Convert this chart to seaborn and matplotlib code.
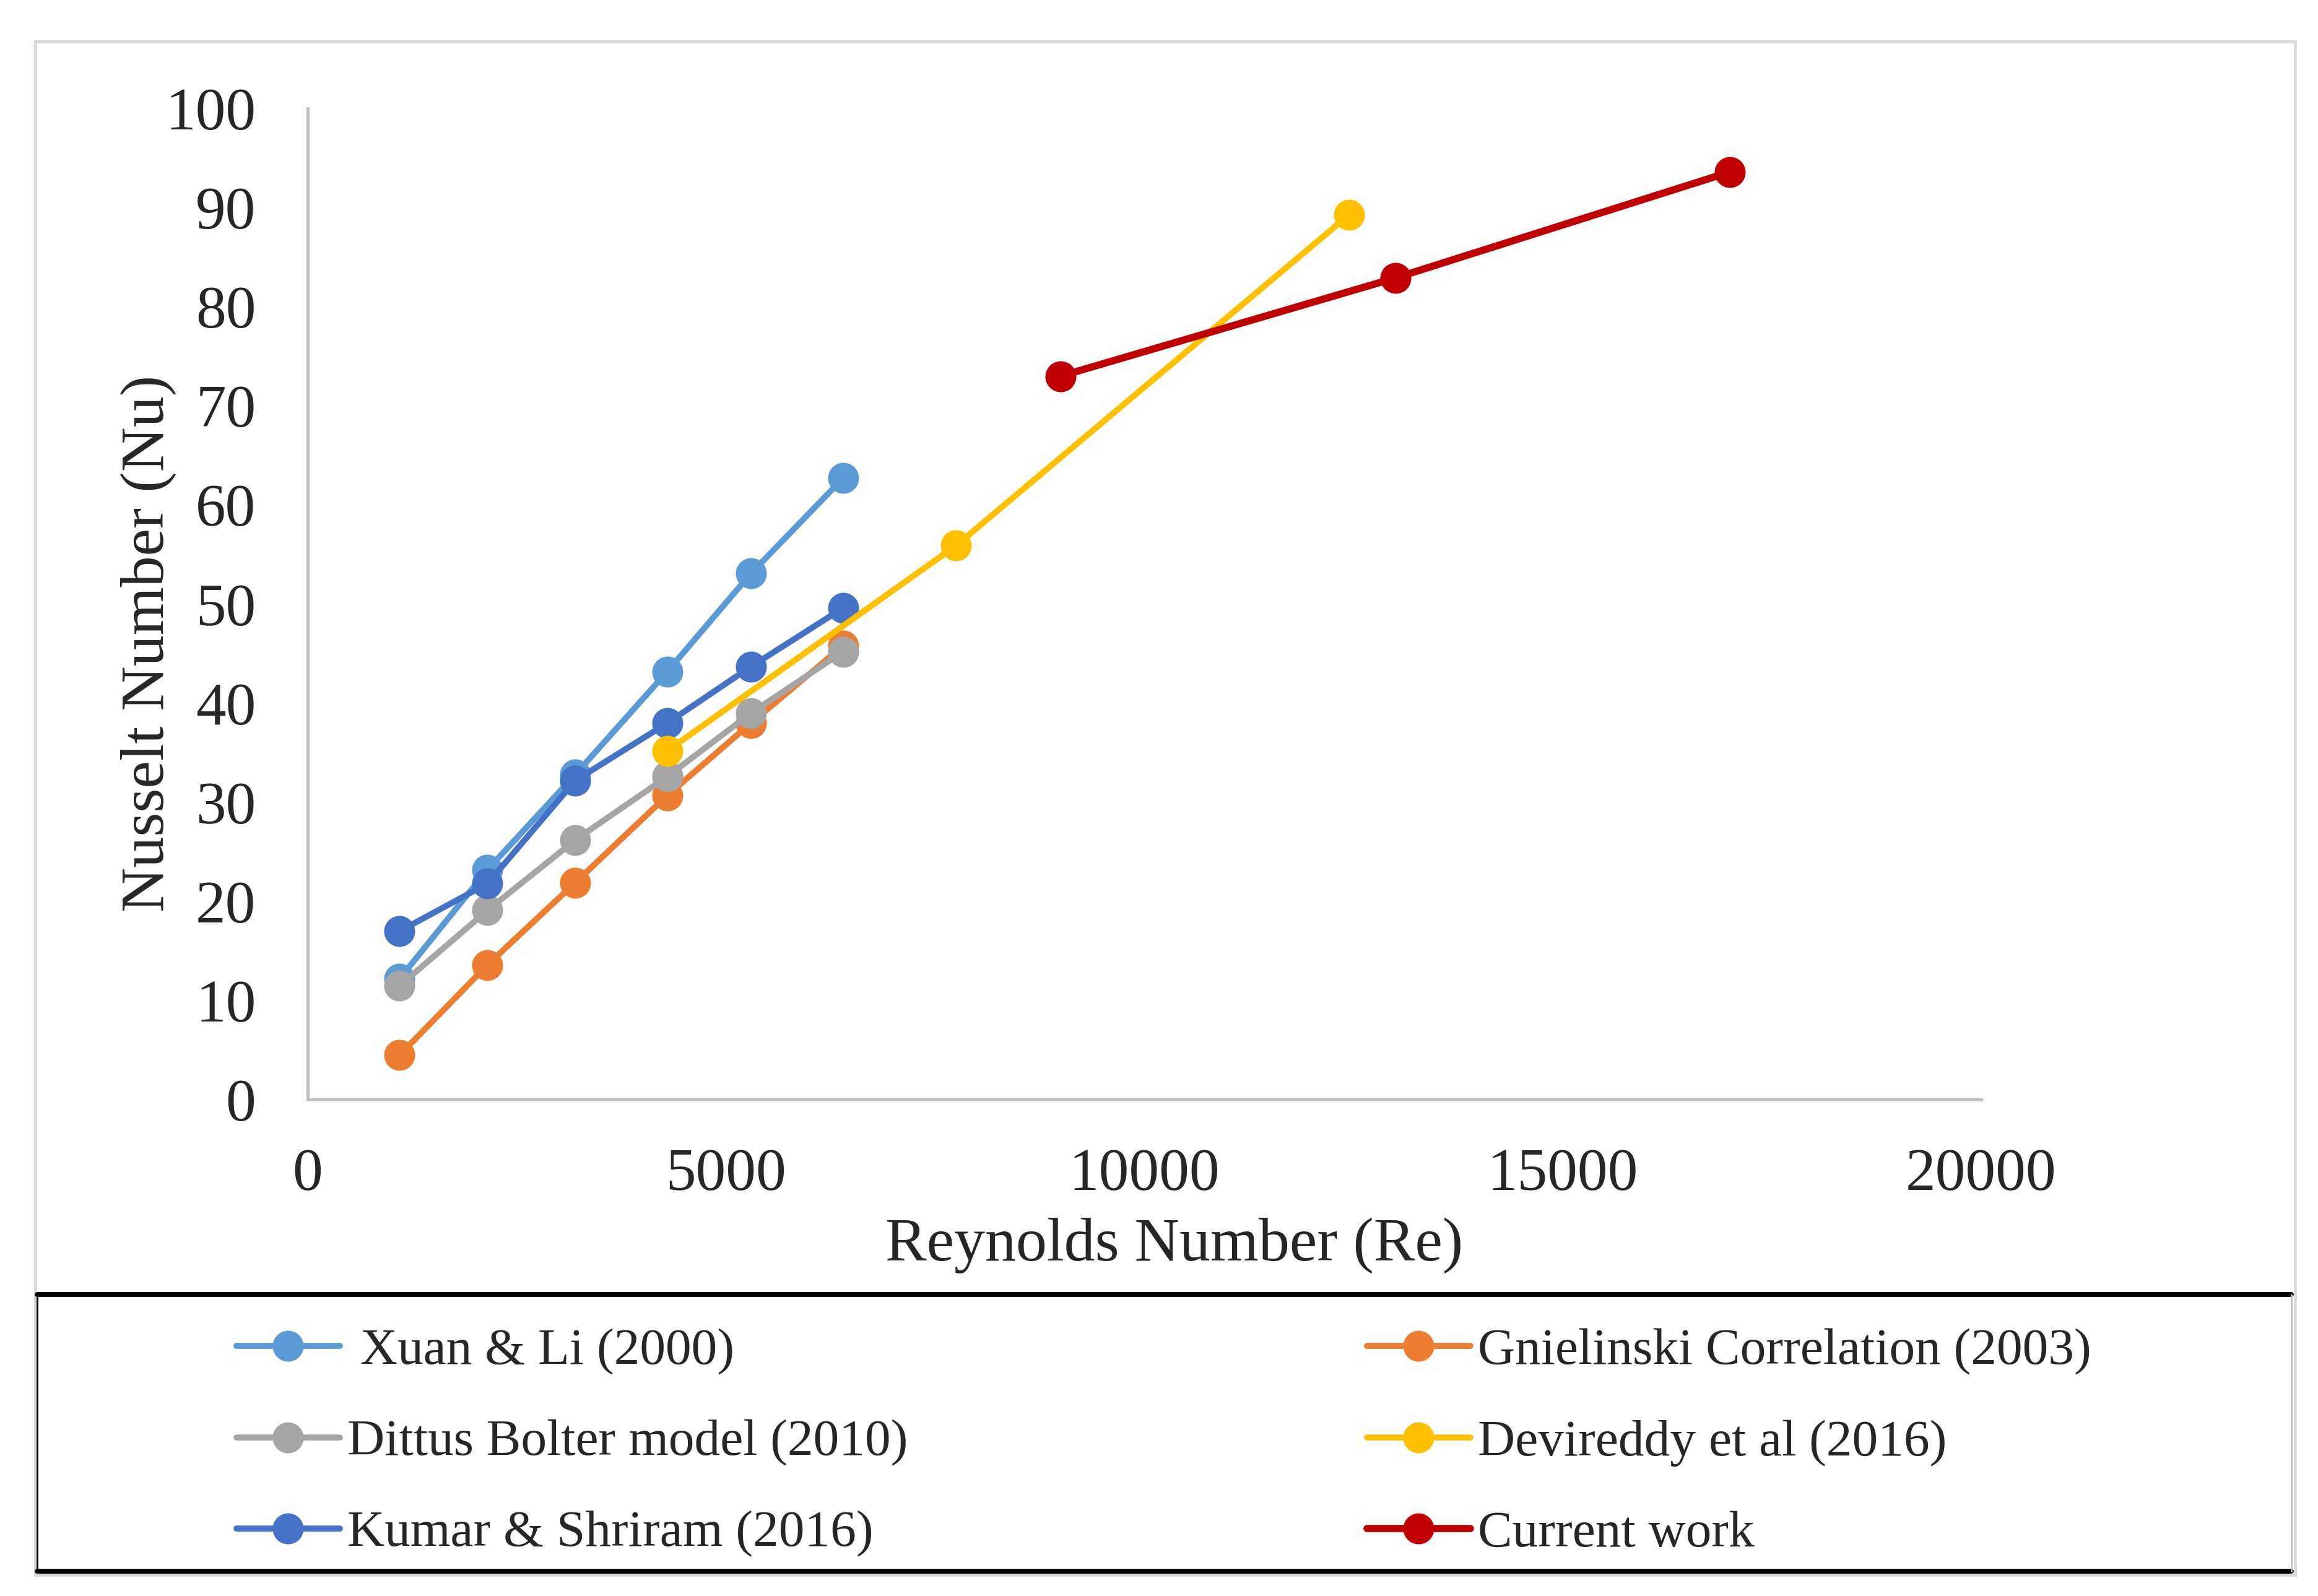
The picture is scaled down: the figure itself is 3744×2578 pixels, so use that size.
import matplotlib
matplotlib.use('Agg')
import matplotlib.pyplot as plt
import seaborn as sns
from matplotlib.patches import Rectangle
from matplotlib.lines import Line2D

# Reynolds numbers used by the four small-Re series
re_low = [1100, 2150, 3200, 4300, 5300, 6400]

xuan_li = [12.2, 23.2, 32.8, 43.2, 53.1, 62.7]
gnielinski = [4.5, 13.6, 21.9, 30.7, 38.0, 45.8]
dittus = [11.5, 19.1, 26.2, 32.6, 39.0, 45.2]
kumar = [17.0, 21.8, 32.2, 38.0, 43.7, 49.6]

re_devireddy = [4300, 7750, 12450]
devireddy = [35.2, 55.9, 89.3]

re_current = [9000, 13000, 17000]
current = [73.0, 82.9, 93.6]

labels = [' Xuan & Li (2000)', 'Gnielinski Correlation (2003)', 'Dittus Bolter model (2010)',
          'Devireddy et al (2016)', 'Kumar & Shriram (2016)', 'Current work']
colors = ['#5B9BD5', '#ED7D31', '#A5A5A5', '#FFC000', '#4472C4', '#C00000']

sns.set_style('white')
plt.rcParams['font.family'] = ['Liberation Serif', 'DejaVu Serif']

fig = plt.figure(figsize=(18.72, 12.89), dpi=200)
ax = fig.add_axes([0.1327, 0.311, 0.7219, 0.621])

series = [
    (re_low, xuan_li, 0),
    (re_low, gnielinski, 1),
    (re_low, dittus, 2),
    (re_low, kumar, 4),
    (re_devireddy, devireddy, 3),
    (re_current, current, 5),
]
for xs, ys, i in series:
    lw = 4.2 if i == 5 else 3.5
    sns.lineplot(x=xs, y=ys, ax=ax, color=colors[i], marker='o', markersize=18,
                 markeredgewidth=0, linewidth=lw, sort=False, estimator=None, legend=False)

ax.set_xlim(0, 20000)
ax.set_ylim(0, 100)
ax.set_xticks(range(0, 20001, 5000))
ax.set_yticks(range(0, 101, 10))
ax.tick_params(axis='both', length=0, labelsize=35)
ax.tick_params(axis='x', pad=28)
ax.tick_params(axis='y', pad=30)
for side in ['top', 'right']:
    ax.spines[side].set_visible(False)
for side in ['left', 'bottom']:
    ax.spines[side].set_color('#BFBFBF')
    ax.spines[side].set_linewidth(1.8)

ax.set_xlabel('Reynolds Number (Re)', fontsize=36)
ax.set_ylabel('Nusselt Number (Nu)', fontsize=36)
ax.xaxis.set_label_coords(0.518, -0.119)
ax.yaxis.set_label_coords(-0.0785, 0.46)

# outer light grey frame
fig.add_artist(Rectangle((0.0153, 0.013), 0.9747, 0.961, transform=fig.transFigure,
                         fill=False, edgecolor='#D9D9D9', linewidth=1.8))

# legend box below the plot
lx0, lx1, ly0, ly1 = 0.016, 0.9885, 0.0157, 0.189
fig.add_artist(Line2D([lx0, lx1], [ly1, ly1], transform=fig.transFigure, color='black', linewidth=2.8))
fig.add_artist(Line2D([lx0, lx1], [ly0, ly0], transform=fig.transFigure, color='black', linewidth=2.8))
fig.add_artist(Line2D([lx0, lx0], [ly0, ly1], transform=fig.transFigure, color='black', linewidth=1.0))
fig.add_artist(Line2D([lx1, lx1], [ly0, ly1], transform=fig.transFigure, color='#BFBFBF', linewidth=1.0))

order = [0, 2, 4, 1, 3, 5]
handles = [Line2D([], [], color=colors[i], marker='o', markersize=18, markeredgewidth=0,
                  linewidth=4.2 if i == 5 else 3.5) for i in order]
fig.legend(handles, [labels[i] for i in order], ncol=2, loc='center left',
           bbox_to_anchor=(0.102, 0.096), frameon=False, fontsize=30,
           handlelength=2.0, handletextpad=0.15, columnspacing=8.9,
           labelspacing=0.85, borderpad=0, borderaxespad=0)

fig.savefig('out.png', dpi=200, facecolor='white')
